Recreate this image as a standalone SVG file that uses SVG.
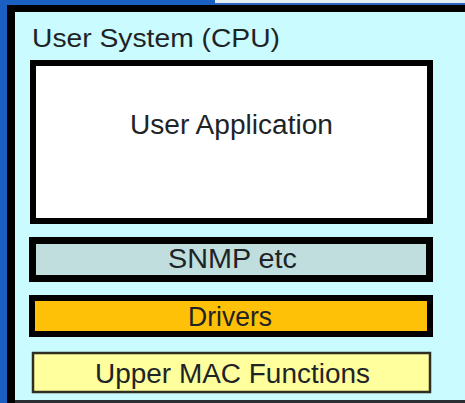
<svg xmlns="http://www.w3.org/2000/svg" width="465" height="403" viewBox="0 0 465 403">
<style>
text { font-family: "Liberation Sans", Arial, sans-serif; fill: #1e2426; }
.lbl { font-size: 27px; text-anchor: middle; }
.thick { stroke: #000; stroke-width: 6; }
</style>
<rect x="0" y="0" width="465" height="403" fill="#c9fbff"/>
<rect x="215" y="0" width="250" height="4" fill="#e4ecf6"/>
<rect x="215" y="3" width="250" height="2" fill="#2a64c0"/>
<rect x="0" y="0" width="215" height="5" fill="#1a5fc2"/>
<rect x="0" y="0" width="7" height="403" fill="#1a5fc2"/>
<rect x="7" y="5" width="458" height="7" fill="#000"/>
<rect x="7" y="5" width="8" height="398" fill="#000"/>
<rect x="15" y="400" width="450" height="3" fill="#2b2f33"/>
<g id="user-system">
<text x="32" y="47" font-size="25.5" textLength="248" lengthAdjust="spacingAndGlyphs">User System (CPU)</text>
</g>
<g id="user-application">
<rect class="thick" x="33" y="63" width="397" height="158" fill="#ffffff"/>
<text class="lbl" x="231.5" y="134" textLength="203" lengthAdjust="spacingAndGlyphs">User Application</text>
</g>
<g id="snmp">
<rect x="32.5" y="240.5" width="397" height="38" fill="#c0dede" stroke="#000" stroke-width="7"/>
<text class="lbl" x="232.5" y="268" textLength="129" lengthAdjust="spacingAndGlyphs">SNMP etc</text>
</g>
<g id="drivers">
<rect class="thick" x="32" y="298" width="398" height="36" fill="#ffc107"/>
<text class="lbl" x="230" y="326" textLength="84" lengthAdjust="spacingAndGlyphs">Drivers</text>
</g>
<g id="upper-mac">
<rect x="33" y="353" width="397" height="39" fill="#ffff9e" stroke="#2e2e22" stroke-width="2.5"/>
<text class="lbl" x="232.5" y="383" textLength="275" lengthAdjust="spacingAndGlyphs">Upper MAC Functions</text>
</g>
<g id="connectors"/>
</svg>
